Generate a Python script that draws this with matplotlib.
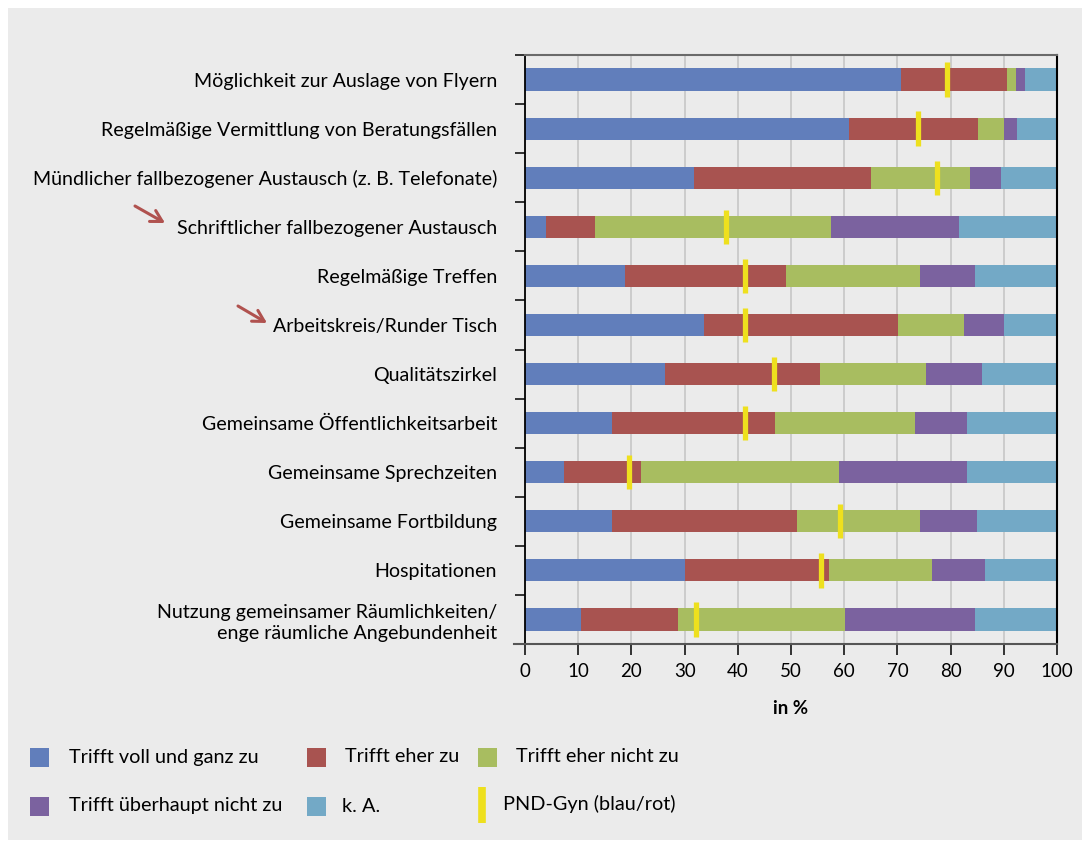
import matplotlib
matplotlib.use("Agg")
import matplotlib.pyplot as plt
from matplotlib.patches import Rectangle, FancyArrowPatch
from matplotlib.lines import Line2D
import numpy as np

plt.rcParams['font.family'] = ['Lato', 'DejaVu Sans']

categories = [
    "Möglichkeit zur Auslage von Flyern",
    "Regelmäßige Vermittlung von Beratungsfällen",
    "Mündlicher fallbezogener Austausch (z. B. Telefonate)",
    "Schriftlicher fallbezogener Austausch",
    "Regelmäßige Treffen",
    "Arbeitskreis/Runder Tisch",
    "Qualitätszirkel",
    "Gemeinsame Öffentlichkeitsarbeit",
    "Gemeinsame Sprechzeiten",
    "Gemeinsame Fortbildung",
    "Hospitationen",
    "Nutzung gemeinsamer Räumlichkeiten/\nenge räumliche Angebundenheit",
]
series_names = ["Trifft voll und ganz zu", "Trifft eher zu", "Trifft eher nicht zu",
                "Trifft überhaupt nicht zu", "k. A."]
voll = [70.6, 60.9, 31.8, 3.9, 18.8, 33.7, 26.3, 16.3, 7.3, 16.3, 30.1, 10.5]
eher = [20.0, 24.3, 33.2, 9.2, 30.2, 36.4, 29.1, 30.7, 14.5, 34.8, 27.0, 18.3]
eher_nicht = [1.7, 4.8, 18.7, 44.4, 25.2, 12.4, 20.0, 26.3, 37.2, 23.1, 19.4, 31.3]
ueberhaupt_nicht = [1.7, 2.5, 5.8, 24.1, 10.4, 7.5, 10.5, 9.8, 24.1, 10.8, 10.0, 24.5]
ka = [6.0, 7.5, 10.5, 18.4, 15.4, 10.0, 14.1, 16.9, 16.9, 15.0, 13.5, 15.4]
pnd_gyn = [79.3, 73.9, 77.4, 37.7, 41.3, 41.3, 46.8, 41.3, 19.5, 59.3, 55.6, 32.2]
pnd_label = "PND-Gyn (blau/rot)"
arrow_rows = [3, 5]
xticks = [0, 10, 20, 30, 40, 50, 60, 70, 80, 90, 100]
xlabel = "in %"

colors = ["#617ebb", "#a85350", "#a8bd60", "#7b629f", "#73a9c6"]
yellow = "#eee01e"
bg = "#ebebeb"

W, H = 1089, 843
fig = plt.figure(figsize=(W / 100, H / 100), dpi=100)
fig.patch.set_facecolor("white")
fig.patches.append(Rectangle((8 / W, 1 - 840 / H), (1082 - 8) / W, (840 - 8) / H,
                             transform=fig.transFigure, facecolor=bg, edgecolor="none", zorder=-10))

ax = fig.add_axes([525 / W, 1 - 644 / H, 532 / W, 589 / H])
ax.set_facecolor(bg)

y = np.arange(len(categories))
left = np.zeros(len(categories))
for vals, c in zip([voll, eher, eher_nicht, ueberhaupt_nicht, ka], colors):
    ax.barh(y, vals, left=left, height=0.45, color=c, edgecolor="none", zorder=2)
    left = left + np.array(vals)

for i, v in enumerate(pnd_gyn):
    ax.plot([v, v], [i - 0.35, i + 0.35], color=yellow, lw=3.8, solid_capstyle="butt", zorder=3)

ax.set_xlim(0, 100)
ax.set_ylim(len(categories) - 0.5, -0.5)
ax.set_xticks(xticks)
ax.set_xticklabels([str(t) for t in xticks], fontsize=13.5)
ax.tick_params(axis="x", direction="out", length=8, width=1.1, color="black", pad=6)
ax.set_yticks(y)
ax.set_yticklabels(categories, fontsize=14.1, linespacing=1.3)
ax.tick_params(axis="y", which="major", length=0, pad=20)
ax.set_yticks(np.arange(-0.5, len(categories), 1.0), minor=True)
ax.tick_params(axis="y", which="minor", direction="out", length=7.5, width=1.1, color="black")
for lab in ax.get_yticklabels():
    lab.set_horizontalalignment("right")

ax.xaxis.grid(True, color="#c9c9c9", lw=1.3, zorder=1)
ax.set_axisbelow(True)

ax.spines["left"].set_color("black")
ax.spines["left"].set_linewidth(1.3)
ax.spines["right"].set_color("black")
ax.spines["right"].set_linewidth(1.5)
ax.spines["top"].set_color("#6a6a6a")
ax.spines["top"].set_linewidth(1.5)
ax.spines["bottom"].set_visible(False)
ax.add_line(Line2D([-0.021, 1], [0, 0], transform=ax.transAxes, color="#555555",
                   lw=1.5, clip_on=False, zorder=4))

ax.set_xlabel(xlabel, fontsize=13.5, fontweight="bold", labelpad=14)

# arrows
arrow_coords = {3: ((135, 206), (165, 223)), 5: ((238, 306), (267, 323))}
for r in arrow_rows:
    (x0, y0), (x1, y1) = arrow_coords[r]
    fig.patches.append(FancyArrowPatch((x0 / W, 1 - y0 / H), (x1 / W, 1 - y1 / H),
                                       transform=fig.transFigure,
                                       arrowstyle="->,head_length=8,head_width=4.5",
                                       color="#b0524f", lw=2.2, mutation_scale=1.0,
                                       shrinkA=0, shrinkB=0, capstyle="round"))

# legend
leg_items = [
    (0, 30, 757, 69), (1, 307, 757, 345), (2, 478, 757, 516),
    (3, 30, 806, 69), (4, 307, 806, 342),
]
for idx, xs, yc, xt in leg_items:
    fig.patches.append(Rectangle((xs / W, 1 - (yc + 9.5) / H), 19 / W, 19 / H,
                                 transform=fig.transFigure, facecolor=colors[idx], edgecolor="none"))
    fig.text(xt / W, 1 - yc / H, series_names[idx], fontsize=14.3, va="center", ha="left")
fig.add_artist(Line2D([482 / W, 482 / W], [1 - 787 / H, 1 - 823 / H], transform=fig.transFigure,
                      color=yellow, lw=5.5, solid_capstyle="butt"))
fig.text(503 / W, 1 - 804 / H, pnd_label, fontsize=14.3, va="center", ha="left")

fig.savefig("out.png", dpi=100, facecolor=fig.get_facecolor())
